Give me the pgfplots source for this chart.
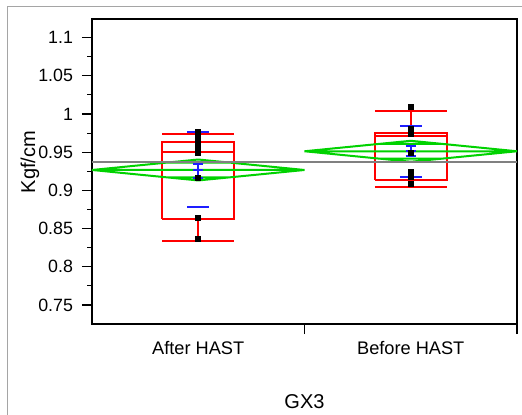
\documentclass[border=0pt]{standalone}
\usepackage{fontspec}
\setmainfont{Liberation Sans}
\usepackage{pgfplots}
\pgfplotsset{compat=1.18}

\definecolor{jred}{RGB}{255,0,0}
\definecolor{jgreen}{RGB}{0,210,0}
\definecolor{jblue}{RGB}{30,30,255}
\definecolor{jgray}{RGB}{128,128,128}
\definecolor{frame}{RGB}{165,165,165}

\begin{document}
\begin{tikzpicture}
% page = 522x414 px at 0.5pt per px
\useasboundingbox (0,0) rectangle (261pt,207pt);
\draw[frame, line width=0.5pt] (3.6pt,-2pt) -- (3.6pt,204pt) -- (263pt,204pt);
\begin{axis}[
    at={(46pt,45pt)}, anchor=south west,
    scale only axis,
    width=212.5pt, height=152.5pt,
    xmin=0.5, xmax=2.5,
    ymin=0.7251, ymax=1.1243,
    axis line style={black, line width=0.9pt},
    tick align=outside,
    tick pos=left,
    tick style={black, line width=0.55pt},
    major tick length=5pt,
    minor tick length=2.5pt,
    xtick={1.5,2.5},
    xticklabels={},
    extra x ticks={1,2},
    extra x tick labels={After HAST, Before HAST},
    extra x tick style={major tick length=0pt},
    ytick={0.75,0.8,0.85,0.9,0.95,1,1.05,1.1},
    yticklabels={0.75,0.8,0.85,0.9,0.95,1,1.05,1.1},
    minor y tick num=1,
    /pgf/number format/assume math mode=true,
    tick label style={font=\fontsize{8.9}{10}\selectfont},
    yticklabel style={xshift=-1pt},
    xticklabel style={font=\fontsize{9.1}{10}\selectfont, yshift=-5pt},
    label style={font=\fontsize{9.2}{11}\selectfont},
    ylabel={Kgf/cm},
    xlabel={GX3},
    every axis y label/.style={at={(axis description cs:-0.146,0.531)}, rotate=90, anchor=center},
    every axis x label/.style={at={(axis description cs:0.5,-0.256)}, anchor=center},
    unbounded coords=jump,
    clip=false,
]
% quantile boxes
\addplot[jred, line width=1pt] coordinates {
    (0.831,0.8626) (1.169,0.8626) (1.169,0.9627) (0.831,0.9627) (0.831,0.8626) (1,nan)
    (0.831,0.9503) (1.169,0.9503) (1,nan)
    (1,0.9627) (1,0.9738) (1,nan)
    (1,0.8626) (1,0.8338) (1,nan)
    (0.831,0.9738) (1.169,0.9738) (1,nan)
    (0.831,0.8338) (1.169,0.8338)
};
\addplot[jred, line width=1pt] coordinates {
    (1.831,0.9132) (2.169,0.9132) (2.169,0.9747) (1.831,0.9747) (1.831,0.9132) (2,nan)
    (1.831,0.9716) (2.169,0.9716) (2,nan)
    (2,0.9747) (2,1.0043) (2,nan)
    (2,0.9132) (2,0.9041) (2,nan)
    (1.831,1.0043) (2.169,1.0043) (2,nan)
    (1.831,0.9041) (2.169,0.9041)
};
% means diamonds
\addplot[jgreen, line width=1pt] coordinates {
    (0.5,0.9267) (1,0.9404) (1.5,0.9267) (1,0.9130) (0.5,0.9267) (1.5,0.9267) (1,nan)
    (0.854,0.9364) (1.146,0.9364) (1,nan)
    (0.854,0.9170) (1.146,0.9170)
};
\addplot[jgreen, line width=1pt] coordinates {
    (1.5,0.9512) (2,0.9649) (2.5,0.9512) (2,0.9375) (1.5,0.9512) (2.5,0.9512) (2,nan)
    (1.854,0.9609) (2.146,0.9609) (2,nan)
    (1.854,0.9415) (2.146,0.9415)
};
% grand mean
\addplot[jgray, line width=1pt] coordinates {(0.5,0.9376) (2.5,0.9376)};
% mean error bars and std dev lines
\addplot[jblue, line width=1pt] coordinates {
    (0.949,0.9758) (1.051,0.9758) (1,nan)
    (0.949,0.8779) (1.051,0.8779) (1,nan)
    (0.976,0.9267) (1.024,0.9267) (1,nan)
    (0.976,0.9339) (1.024,0.9339) (1,nan)
    (0.976,0.9162) (1.024,0.9162) (1,nan)
    (1,0.9339) (1,0.9162)
};
\addplot[jblue, line width=1pt] coordinates {
    (1.949,0.9847) (2.051,0.9847) (2,nan)
    (1.949,0.9179) (2.051,0.9179) (2,nan)
    (1.976,0.9512) (2.024,0.9512) (2,nan)
    (1.976,0.9577) (2.024,0.9577) (2,nan)
    (1.976,0.9446) (2.024,0.9446) (2,nan)
    (2,0.9577) (2,0.9446)
};
% observations
\addplot[only marks, mark=square*, mark size=1.25pt, black] coordinates {
    (1,0.9762) (1,0.9716) (1,0.9670) (1,0.9624) (1,0.9578) (1,0.9533) (1,0.9487)
    (1,0.9166) (1,0.8643) (1,0.8364)
    (2,1.0088) (2,0.9801) (2,0.9768) (2,0.9736) (2,0.9486) (2,0.9245)
    (2,0.9171) (2,0.9084)
};
\end{axis}
\end{tikzpicture}
\end{document}
